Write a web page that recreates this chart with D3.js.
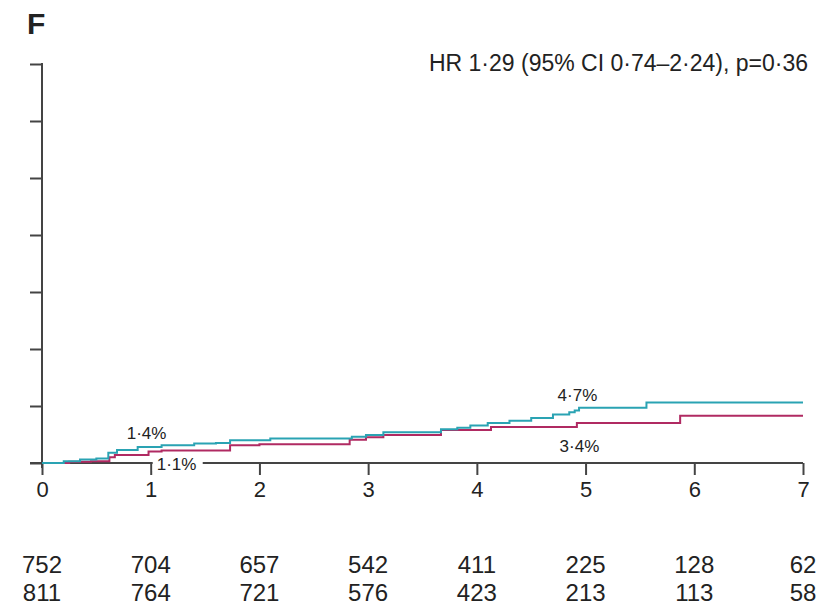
<!DOCTYPE html>
<meta charset="utf-8">
<html>
<head>
<script src="https://cdn.jsdelivr.net/npm/d3@7"></script>
<style>
  body { margin: 0; background: #fff; }
  text { font-family: "Liberation Sans", Arial, sans-serif; fill: #222; }
</style>
</head>
<body>
<svg id="chart" width="827" height="615"></svg>
<script>
// cumulative incidence (%), [years, percent] step points
var cyanSeries = [
  [0, 0], [0.2, 0.15], [0.35, 0.3], [0.5, 0.4], [0.61, 0.9], [0.69, 1.15], [0.88, 1.4],
  [1.1, 1.55], [1.4, 1.7], [1.6, 1.75], [1.73, 2.0], [2.1, 2.15], [2.85, 2.3], [2.98, 2.45],
  [3.14, 2.7], [3.67, 2.95], [3.82, 3.1], [3.94, 3.3], [4.1, 3.5], [4.3, 3.7], [4.5, 3.95],
  [4.7, 4.25], [4.85, 4.45], [4.9, 4.6], [4.94, 4.85], [5.56, 5.3], [7, 5.3]
];
var magentaSeries = [
  [0, 0], [0.25, 0.1], [0.45, 0.15], [0.62, 0.5], [0.67, 0.7], [0.98, 1.0], [1.1, 1.1],
  [1.73, 1.55], [2.0, 1.65], [2.83, 2.05], [2.98, 2.25], [3.14, 2.45], [3.67, 2.9],
  [4.13, 3.15], [4.92, 3.5], [5.87, 4.15], [7, 4.15]
];
var xTicks = [0, 1, 2, 3, 4, 5, 6, 7];
var yTicks = [0, 5, 10, 15, 20, 25, 30, 35];
var atRiskCyan = [752, 704, 657, 542, 411, 225, 128, 62];
var atRiskMagenta = [811, 764, 721, 576, 423, 213, 113, 58];
var curveLabels = ["1·4%", "4·7%", "3·4%", "1·1%"];

var svg = d3.select("#chart");
var x = d3.scaleLinear().domain([0, 7]).range([42, 803]);
var y = d3.scaleLinear().domain([0, 35]).range([463, 64]);
var axisColor = "#444";

// panel letter
svg.append("text").attr("x", 27).attr("y", 34)
  .attr("font-size", 30).attr("font-weight", "bold").text("F");

svg.append("text").attr("x", 808).attr("y", 71)
  .attr("text-anchor", "end").attr("font-size", 23)
  .text("HR 1·29 (95% CI 0·74–2·24), p=0·36");

// y axis
var yAxis = d3.axisLeft(y).tickValues(yTicks).tickSize(12).tickFormat("");
var gy = svg.append("g").attr("transform", "translate(42,0)").call(yAxis);
gy.select(".domain").remove();
gy.selectAll("line").attr("stroke", axisColor).attr("stroke-width", 2);
svg.append("line").attr("x1", 42).attr("x2", 42).attr("y1", y(35) - 1).attr("y2", 468)
  .attr("stroke", axisColor).attr("stroke-width", 2);

// x axis
var xAxis = d3.axisBottom(x).tickValues(xTicks).tickSize(12).tickPadding(6).tickFormat(d3.format("d"));
var gx = svg.append("g").attr("transform", "translate(0,463)").call(xAxis);
gx.select(".domain").remove();
gx.selectAll("line").attr("stroke", axisColor).attr("stroke-width", 2);
gx.selectAll("text").attr("font-size", 22).attr("fill", "#222")
  .style("font-family", "'Liberation Sans', Arial, sans-serif");
svg.append("line").attr("x1", 30).attr("x2", 803).attr("y1", 463).attr("y2", 463)
  .attr("stroke", axisColor).attr("stroke-width", 2);

// curves
var line = d3.line().x(function(d) { return x(d[0]); }).y(function(d) { return y(d[1]); })
  .curve(d3.curveStepAfter);
svg.append("path").datum(magentaSeries).attr("d", line)
  .attr("fill", "none").attr("stroke", "#b02a62").attr("stroke-width", 2);
svg.append("path").datum(cyanSeries).attr("d", line)
  .attr("fill", "none").attr("stroke", "#2aa3b3").attr("stroke-width", 2);

// curve labels
svg.append("text").attr("x", x(1) - 24).attr("y", 439)
  .attr("font-size", 17).text(curveLabels[0]);
svg.append("text").attr("x", x(5) - 28).attr("y", 401)
  .attr("font-size", 17).text(curveLabels[1]);
svg.append("text").attr("x", x(5) - 26).attr("y", 452)
  .attr("font-size", 17).text(curveLabels[2]);

// 1.1% label sits on the axis with a white box behind it
svg.append("rect").attr("x", x(1) + 2).attr("y", 455).attr("width", 50).attr("height", 16).attr("fill", "#fff");
svg.append("text").attr("x", x(1) + 6).attr("y", 470)
  .attr("font-size", 17).text(curveLabels[3]);

// numbers at risk
svg.append("g").selectAll("text").data(atRiskCyan).join("text")
  .attr("x", function(d, i) { return x(xTicks[i]); }).attr("y", 573)
  .attr("text-anchor", "middle").attr("font-size", 24).text(function(d) { return d; });
svg.append("g").selectAll("text").data(atRiskMagenta).join("text")
  .attr("x", function(d, i) { return x(xTicks[i]); }).attr("y", 601)
  .attr("text-anchor", "middle").attr("font-size", 24).text(function(d) { return d; });
</script>
</body>
</html>
